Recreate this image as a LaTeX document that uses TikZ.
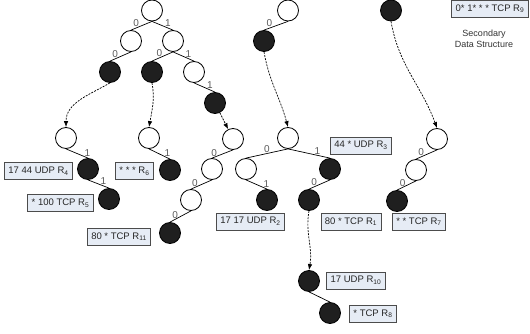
\documentclass[tikz,border=0pt]{standalone}
\usepackage{fontspec}
\setmainfont{Liberation Sans}
\usepackage{tikz}
\usetikzlibrary{arrows.meta}
\definecolor{boxfill}{HTML}{E6ECF5}

\begin{document}
\begin{tikzpicture}[x=1pt,y=-1pt,
    wnode/.style={circle,draw,line width=0.8pt,minimum size=21pt,inner sep=0pt,fill=white},
    bnode/.style={wnode,fill=black!88},
    bit/.style={text=black!65,font=\fontsize{10}{11}\selectfont,inner sep=0.8pt,above},
    rbox/.style={draw=black!70,line width=0.7pt,fill=boxfill,text=black!85,font=\fontsize{9.5}{11}\selectfont,minimum height=17pt,inner xsep=4pt,inner ysep=0pt},
    link/.style={line width=0.7pt},
    jump/.style={line width=0.7pt,dash pattern=on 2pt off 1.2pt,-{Latex[length=6pt,width=4.5pt]}}]
            \useasboundingbox (0,0) rectangle (530,334);
            %\draw (0,0) rectangle (530,334);

            % first trie
            \node [wnode] (A) at (152,10.5) {};
            \node [wnode] (A0) at (131,41) {};
            \node [wnode] (A1) at (173,41) {};
            \node [bnode] (A00) at (110,72) {};
            \node [bnode] (A10) at (152,72) {};
            \node [wnode] (A11) at (194,72) {};
            \node [bnode] (A111) at (215,103) {};
            \draw[link] (A.south) -- (A0.north) node[bit,pos=.76] {0};
            \draw[link] (A.south) -- (A1.north) node[bit,pos=.76] {1};
            \draw[link] (A0.south) -- (A00.north) node[bit,pos=.76] {0};
            \draw[link] (A1.south) -- (A10.north) node[bit,pos=.65] {0};
            \draw[link] (A1.south) -- (A11.north) node[bit,pos=.73] {1};
            \draw[link] (A11.south) -- (A111.north) node[bit,pos=.76] {1};

            \node [wnode] (E) at (288,10.5) {};
            \node [bnode] (E0) at (264,41) {};
            \draw[link] (E.south) -- (E0.north) node[bit,pos=.78] {0};

            \node [bnode] (G) at (391,10.5) {};

            % secondary tries
            \node [wnode] (B) at (66,138) {};
            \node [bnode] (B1) at (88,169) {};
            \node [bnode] (B11) at (109,199) {};
            \draw[link] (B.south) -- (B1.north) node[bit,pos=.97] {1};
            \draw[link] (B1.south) -- (B11.north) node[bit,pos=.73] {1};

            \node [wnode] (C) at (149,138) {};
            \node [bnode] (C1) at (170,170) {};
            \draw[link] (C.south) -- (C1.north) node[bit,pos=.88] {1};

            \node [wnode] (D) at (233,139) {};
            \node [wnode] (D0) at (212,169) {};
            \node [wnode] (D00) at (191,200) {};
            \node [bnode] (D000) at (170,233) {};
            \draw[link] (D.south) -- (D0.north) node[bit,pos=.9] {0};
            \draw[link] (D0.south) -- (D00.north) node[bit,pos=.81] {0};
            \draw[link] (D00.south) -- (D000.north) node[bit,pos=.76] {0};

            \node [wnode] (F) at (288,138) {};
            \node [wnode] (F0) at (246,169) {};
            \node [bnode] (F1) at (330,169) {};
            \node [bnode] (F01) at (267,200) {};
            \node [bnode] (F10) at (309,200) {};
            \node [bnode] (J) at (309,281) {};
            \node [bnode] (J1) at (330,313) {};
            \draw[link] (F.south) -- (F0.north) node[bit,pos=.5] {0};
            \draw[link] (F.south) -- (F1.north) node[bit,pos=.7] {1};
            \draw[link] (F0.south) -- (F01.north) node[bit,pos=.97] {1};
            \draw[link] (F1.south) -- (F10.north) node[bit,pos=.75] {0};
            \draw[link] (J.south) -- (J1.north);

            \node [wnode] (H) at (437,139) {};
            \node [wnode] (H0) at (416,170) {};
            \node [bnode] (H00) at (397,201) {};
            \draw[link] (H.south) -- (H0.north) node[bit,pos=.76] {0};
            \draw[link] (H0.south) -- (H00.north) node[bit,pos=.7] {0};

            % pointers
            \draw[jump] (A00.south) to[out=-150,in=90] (B.north);
            \draw[jump] (A10.south) to[out=-80,in=80] (C.north);
            \draw[jump] (A111) -- (D);
            \draw[jump] (E0.south) to[out=-80,in=105] (F.north);
            \draw[jump] (G.south) to[out=-80,in=110] (H.north);
            \draw[jump] (F10.south) to[out=-100,in=80] (J.north);

            % rules
            \node [rbox] (R4) at (38.5,171) {17 44 UDP R\textsubscript{4}};
            \node [rbox] (R5) at (60.5,203) {* 100 TCP R\textsubscript{5}};
            \node [rbox] (R6) at (134.5,171) {* * * R\textsubscript{6}};
            \node [rbox] (R11) at (119,236.5) {80 * TCP R\textsubscript{11}};
            \node [rbox] (R3) at (361,145.5) {44 * UDP R\textsubscript{3}};
            \node [rbox] (R2) at (250.5,221.5) {17 17 UDP R\textsubscript{2}};
            \node [rbox] (R1) at (351,221.5) {80 * TCP R\textsubscript{1}};
            \node [rbox] (R7) at (419,221.5) {* * TCP R\textsubscript{7}};
            \node [rbox] (R10) at (356,280.5) {17 UDP R\textsubscript{10}};
            \node [rbox] (R8) at (373,313.5) {* TCP R\textsubscript{8}};
            \node [rbox] (R9) at (490,8.5) {0* 1* * * TCP R\textsubscript{9}};
            \node [align=center,text=black!80,font=\fontsize{9}{11}\selectfont] (sds) at (484,39) {Secondary\\Data Structure};
\end{tikzpicture}
\end{document}
